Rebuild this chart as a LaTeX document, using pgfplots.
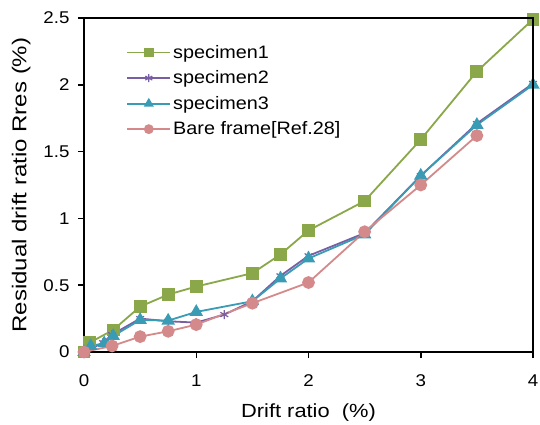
\documentclass[border=0pt]{standalone}
\usepackage{fontspec}
\setmainfont{Liberation Sans}[FakeStretch=1.1]
\newfontfamily\xlabfont{Liberation Sans}[FakeStretch=1.15]
\newfontfamily\ylabfont{Liberation Sans}[FakeStretch=1.2]
\usepackage{pgfplots}
\pgfplotsset{compat=1.18}
\definecolor{cg}{HTML}{8AA84A}
\definecolor{cp}{HTML}{7A5EA3}
\definecolor{ct}{HTML}{3A9BB5}
\definecolor{cr}{HTML}{D48A8A}
\begin{document}
\begin{tikzpicture}
\path[use as bounding box] (-84pt,-73pt) rectangle (456pt,352pt);
\begin{axis}[
  name=ax,
  at={(0pt,0pt)}, anchor=south west,
  scale only axis,
  width=449pt, height=334pt,
  xmin=0, xmax=4, ymin=0, ymax=2.5,
  xtick={0,1,2,3,4}, ytick={0,0.5,1,1.5,2,2.5},
  yticklabels={0,0.5,1,1.5,2,2.5},
  xticklabels={0,1,2,3,4},
  tick align=outside, xtick pos=bottom, ytick pos=left,
  major tick length=6pt,
  axis line style={line width=1.8pt},
  tick style={line width=1.5pt, black},
  ticklabel style={font=\fontsize{17}{19}\selectfont},
  xticklabel style={yshift=-13pt},
  yticklabel style={xshift=-5pt},
  xlabel={Drift ratio\ \ (\%)},
  ylabel={Residual drift ratio Rres (\%)},
  xlabel style={font=\xlabfont\fontsize{19}{21}\selectfont, yshift=-10pt},
  ylabel style={font=\ylabfont\fontsize{20}{22}\selectfont, yshift=6pt},
  legend style={draw=none, fill=none, at={(0.094,0.925)}, anchor=north west,
    font=\fontsize{18}{20}\selectfont, row sep=7pt, inner sep=0pt},
  legend cell align=left,
  legend image code/.code={
    \draw[#1, mark=none] (0pt,0pt) -- (43pt,0pt);
    \draw[#1, only marks, mark size=4pt] plot coordinates {(21.5pt,0pt)};
  },
  clip=false,
]
\addplot[color=cg, line width=1.8pt, mark=square*, mark size=5.5pt, mark options={solid}] coordinates {
(0,0) (0.05,0.07) (0.26,0.165) (0.5,0.34) (0.75,0.43) (1.0,0.49) (1.5,0.59) (1.75,0.73) (2.0,0.91) (2.5,1.13) (3.0,1.59) (3.5,2.1) (4.0,2.49)};
\addlegendentry{specimen1}
\addplot[color=cp, line width=1.8pt, mark=asterisk, mark size=4.5pt, mark options={solid,line width=1.2pt}] coordinates {
(0,0) (0.17,0.07) (0.25,0.13) (0.5,0.25) (0.75,0.23) (1.0,0.22) (1.25,0.28) (1.5,0.38) (1.75,0.57) (2.0,0.72) (2.5,0.89) (3.0,1.32) (3.5,1.71) (4.0,2.01)};
\addlegendentry{specimen2}
\addplot[color=ct, line width=1.8pt, mark=triangle*, mark size=6pt, mark options={solid}] coordinates {
(0,0) (0.06,0.045) (0.18,0.065) (0.26,0.12) (0.5,0.24) (0.75,0.235) (1.0,0.30) (1.5,0.38) (1.75,0.55) (2.0,0.70) (2.5,0.88) (3.0,1.32) (3.5,1.70) (4.0,2.0)};
\addlegendentry{specimen3}
\addplot[color=cr, line width=1.8pt, mark=*, mark size=5.5pt, mark options={solid}] coordinates {
(0,0) (0.25,0.045) (0.5,0.115) (0.75,0.155) (1.0,0.205) (1.5,0.365) (2.0,0.52) (2.5,0.9) (3.0,1.25) (3.5,1.62)};
\addlegendentry{Bare frame[Ref.28]}
\end{axis}
\draw[line width=1.8pt, black] (0pt,334pt) -- (449pt,334pt) -- (449pt,0pt);
\end{tikzpicture}
\end{document}
